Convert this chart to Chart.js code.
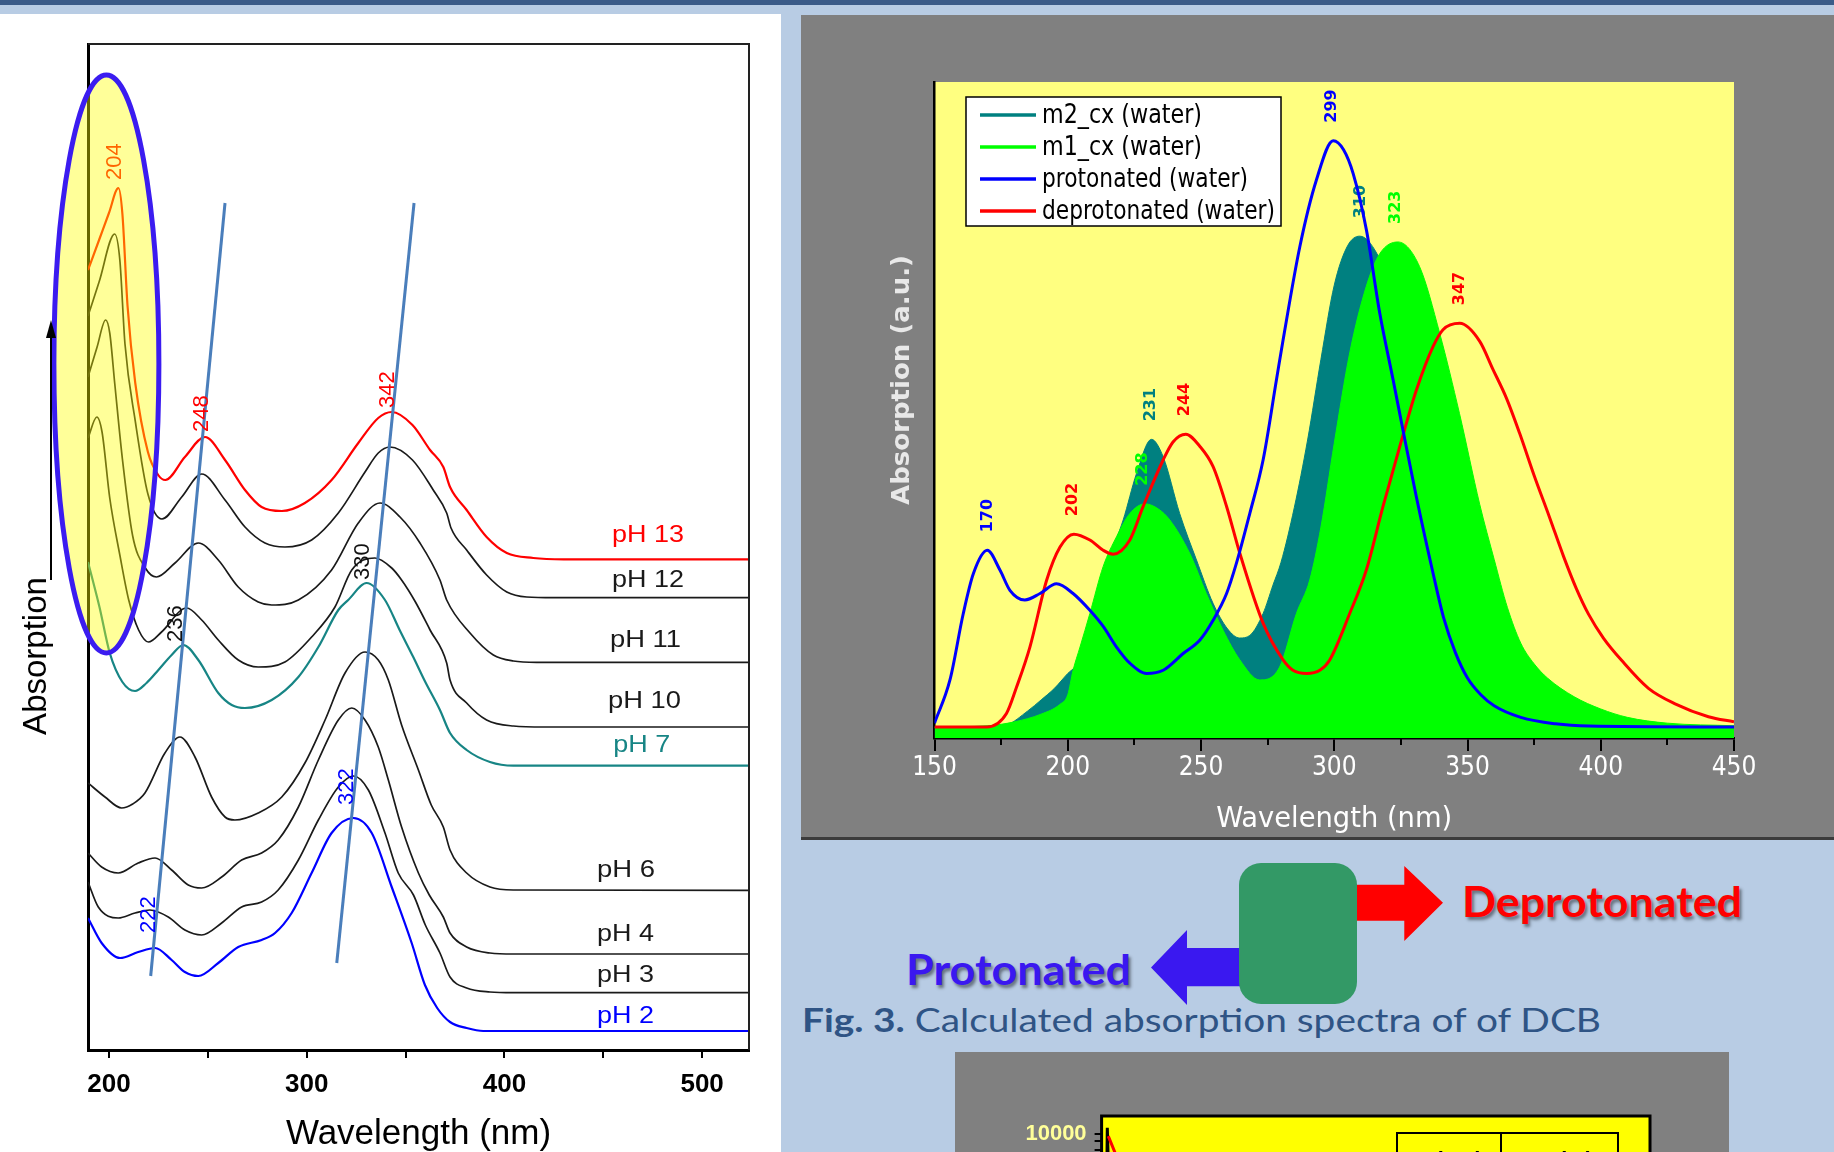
<!DOCTYPE html>
<html>
<head>
<meta charset="utf-8">
<script src="https://cdn.jsdelivr.net/npm/chart.js@4.4.1/dist/chart.umd.min.js"></script>
<style>
  body { margin:0; width:1834px; height:1152px; overflow:hidden; background:#b8cce4; position:relative; }
  .blk { position:absolute; }
  .fit { position:absolute; white-space:nowrap; line-height:1; transform-origin:0 0; font-family:Lato, "Open Sans", sans-serif; }
  canvas { display:block; }
</style>
</head>
<body>
<div class="blk" style="left:0;top:0;width:1834px;height:5px;background:#3b5b88"></div>
<div class="blk" style="left:0;top:14px;width:781px;height:1138px;background:#fff">
  <canvas id="phChart" width="781" height="1138"></canvas>
</div>
<div class="blk" style="left:801px;top:15px;width:1033px;height:822px;background:#808080;border-bottom:3px solid #3c3c3c">
  <canvas id="calcChart" width="1033" height="822"></canvas>
</div>
<div class="blk" style="left:955px;top:1052px;width:774px;height:100px;background:#808080;overflow:hidden">
  <canvas id="fitChart" width="774" height="460"></canvas>
</div>

<!-- scheme between the charts -->
<div class="blk" style="left:1151px;top:930px;width:90px;height:75px;background:#3a18f0;clip-path:polygon(0 50%,40% 0,40% 24%,100% 24%,100% 75%,40% 75%,40% 100%)"></div>
<div class="blk" style="left:1355px;top:866px;width:88px;height:75px;background:#ff0000;clip-path:polygon(0 25%,56% 25%,56% 0,100% 49%,56% 100%,56% 73%,0 73%)"></div>
<div class="blk" style="left:1239px;top:863px;width:118px;height:141px;background:#339966;border-radius:22px"></div>
<div class="fit" data-fit="280" style="left:1462px;top:880px;font-size:42px;font-weight:bold;color:#ff0000;text-shadow:2px 3px 3px rgba(0,0,0,0.45)">Deprotonated</div>
<div class="fit" data-fit="225" style="left:906px;top:948px;font-size:42px;font-weight:bold;color:#3a18f0;text-shadow:2px 3px 3px rgba(0,0,0,0.45)">Protonated</div>
<div class="fit" data-fit="799" style="left:802px;top:1004px;font-size:32px;color:#2f5485"><b>Fig. 3.</b> Calculated absorption spectra of of DCB</div>

<script>
// ---- measured pH series (wavelength nm, offset absorption) ----
const phLabels = ['pH 13', 'pH 12', 'pH 11', 'pH 10', 'pH 7', 'pH 6', 'pH 4', 'pH 3', 'pH 2'];
const phColors = ['#ff0000', '#1a1a1a', '#1a1a1a', '#1a1a1a', '#178585', '#1a1a1a', '#1a1a1a', '#1a1a1a', '#0000ff'];

const ph13 = [[189.4,7.80],[195,8.10],[200,8.37],[204.8,8.62],[206.8,8.36],[209.4,7.44],[213.3,6.67],[219.7,5.98],[224.9,5.75],[228.5,5.70],[238.4,5.93],[248.6,6.13],[258.7,5.90],[268.8,5.60],[277.2,5.43],[287.4,5.39],[299.1,5.47],[312.6,5.70],[326.1,6.07],[336.2,6.32],[343,6.38],[353.5,6.25],[362.4,6.00],[369.1,5.83],[372.5,5.63],[380.9,5.40],[391,5.13],[401.2,4.97],[414.6,4.92],[430,4.907],[523.7,4.907]];
const ph12 = [[189.4,7.34],[195,7.68],[202.9,8.16],[205.5,7.90],[208.1,7.06],[213.3,6.29],[219.7,5.56],[226.8,5.31],[236.8,5.53],[246.9,5.76],[258.7,5.50],[268.8,5.23],[278.9,5.07],[289,5.03],[302.5,5.10],[316,5.37],[329.5,5.78],[336.2,5.97],[342.1,6.03],[353.5,5.90],[364,5.60],[370.8,5.37],[373,5.22],[380.9,5.00],[391,4.75],[401.2,4.58],[411.3,4.53],[425,4.523],[523.7,4.523]];
const ph11 = [[189.4,6.73],[194,7.03],[198.3,7.30],[200.4,7.17],[202.9,6.67],[206.8,5.91],[212,5.14],[218.4,4.82],[224,4.73],[233.4,4.87],[245.2,5.07],[255.3,4.90],[265.4,4.63],[275.5,4.48],[282.3,4.45],[295.8,4.50],[312.6,4.80],[326.1,5.27],[337.1,5.47],[347.2,5.33],[357.3,5.07],[367.4,4.70],[370.8,4.50],[382.6,4.17],[394.4,3.95],[404.5,3.89],[416.3,3.877],[523.7,3.877]];
const ph10 = [[189.4,6.12],[193.9,6.33],[196.5,6.18],[200.4,5.52],[205.5,4.95],[210,4.50],[215,4.20],[220,4.08],[226.6,4.18],[239.3,4.42],[246.9,4.30],[255.3,4.10],[265.4,3.90],[275.5,3.83],[289,3.88],[302.5,4.13],[314.3,4.43],[322.8,4.80],[334.5,4.92],[343,4.82],[348,4.70],[355,4.48],[362.4,4.20],[370.8,3.87],[372.5,3.70],[380.9,3.47],[391,3.30],[404.5,3.24],[420,3.23],[523.7,3.23]];
const ph7 = [[189.4,4.88],[195.2,4.43],[200.4,3.97],[206.8,3.68],[213.2,3.59],[219,3.67],[225,3.80],[231.7,3.95],[237.6,4.05],[245.2,3.90],[255.3,3.57],[262.1,3.45],[268.8,3.42],[282.3,3.50],[295.8,3.73],[305.9,4.03],[316,4.40],[321,4.50],[330.3,4.67],[339.6,4.50],[347,4.20],[353.9,3.93],[360,3.68],[367.4,3.40],[372.5,3.17],[380.9,3.00],[392.7,2.88],[404.5,2.843],[523.7,2.843]];
const ph6 = [[189.4,2.67],[198,2.53],[206.4,2.42],[212,2.46],[218.2,2.57],[228.3,2.97],[235.9,3.13],[243.5,2.93],[251.9,2.53],[258.7,2.33],[263.7,2.30],[275.5,2.37],[287.4,2.53],[299.1,2.87],[309.3,3.30],[319.4,3.77],[329.5,3.98],[336.2,3.90],[341.3,3.70],[348,3.25],[356.5,2.80],[363,2.45],[369.1,2.23],[372.5,2.00],[380.9,1.77],[392.7,1.63],[404.5,1.60],[523.7,1.597]];
const ph4 = [[189.4,1.97],[196.3,1.83],[204.7,1.77],[214.8,1.87],[223.3,1.92],[231.7,1.80],[240.1,1.65],[246.9,1.62],[257,1.73],[267.1,1.90],[277.2,1.97],[285.6,2.10],[295.8,2.43],[305.9,2.90],[316,3.30],[322.8,3.42],[329.5,3.30],[336.2,3.03],[341.3,2.70],[348,2.23],[356.5,1.77],[362,1.55],[369.1,1.33],[372.5,1.17],[380.9,1.03],[392.7,0.97],[404.5,0.96],[523.7,0.96]];
const ph3 = [[189.4,1.68],[194.6,1.43],[204.7,1.32],[213.2,1.37],[220.7,1.40],[230,1.33],[238.4,1.20],[246.9,1.15],[257,1.27],[267.1,1.43],[277.2,1.48],[285.6,1.60],[295.8,1.90],[305.9,2.30],[316,2.63],[323.6,2.74],[331.2,2.60],[339.6,2.17],[346.3,1.77],[354,1.55],[360,1.25],[367.4,0.97],[372.5,0.73],[380.9,0.62],[392.7,0.58],[404.5,0.573],[523.7,0.573]];
const ph2 = [[189.4,1.32],[196.3,1.07],[205.6,0.92],[214.8,0.98],[223.3,1.02],[231.7,0.90],[238.4,0.78],[245.2,0.74],[255.3,0.87],[265.4,1.03],[277.2,1.10],[284,1.17],[292.4,1.37],[302.5,1.77],[312.6,2.17],[323.6,2.32],[332.9,2.17],[343,1.63],[353.1,1.07],[359.8,0.65],[366,0.42],[372.5,0.28],[380.9,0.22],[389.3,0.19],[523.7,0.19]];
const phSeries = [ph13, ph12, ph11, ph10, ph7, ph6, ph4, ph3, ph2];

// drift guides through the band maxima
const guideShort = [[258.7,8.47],[221.1,0.74]];
const guideLong = [[354.3,8.47],[315.2,0.87]];

// peak tags on the pH plot
const phPeakText = ['204', '248', '342', '330', '236', '322', '222'];
const phPeakColor = ['#ff0000', '#ff0000', '#ff0000', '#111', '#111', '#0000ff', '#0000ff'];

// ---- calculated spectra (wavelength nm, a.u.) ----
const calcLabels = ['m2_cx (water)', 'm1_cx (water)', 'protonated (water)', 'deprotonated (water)'];
const m2cx = [[150,0],[170,0],[177,0.3],[185,2.5],[190,4.2],[195,6],[200,8.3],[203,9.5],[206,12],[210,18],[215,25.5],[220.8,32.1],[225.8,39.3],[231.4,44.6],[235.8,41.9],[242,33.1],[248.3,25.9],[254.5,19.2],[260,15.2],[264.5,13.8],[268.3,14.2],[273.3,17.6],[277,22],[280,25.5],[285,34],[290,44.5],[295,57],[300,68.5],[305,74.6],[309.6,76.1],[316,73.4],[322,67],[330,55],[340,38],[350,22],[360,11],[370,5],[380,2],[400,0.5],[450,0]];
const m1cx = [[150,0],[170,0.2],[180,0.8],[190,2],[197,3.5],[200,5],[202,8.8],[204.6,12.4],[208.3,17.6],[213.3,24.9],[218.3,29.5],[223.3,33.1],[229,34.6],[234,33.8],[238.3,32.1],[245.8,26.9],[252,20.7],[258.3,15],[264.6,10.4],[272,7.3],[279.5,9.3],[285.8,17.6],[290.8,22.8],[295,31],[300,44],[305.8,58],[312,68.3],[317.1,73.4],[323.9,75.2],[332,71.4],[339.6,61],[347,48.6],[354.6,34.5],[360,26],[365,18.5],[370,13],[375,9.8],[380,7.6],[390,4.7],[400,2.8],[410,1.5],[425,0.6],[450,0.2]];
const protonated = [[150,0.6],[155.8,7.3],[160.8,17.6],[164.6,23.8],[169.8,27.4],[174.6,24.3],[178.3,21.2],[183.9,19.7],[189.6,20.7],[195.8,22.2],[202,20.7],[208.3,18.1],[213.3,15.6],[218.3,12.4],[223.3,9.9],[229.6,8.3],[235.8,8.8],[243.3,11.4],[249.6,13.5],[254.6,16.6],[259.6,20.7],[263.3,25.4],[268.3,33.1],[273.3,41.4],[278.3,53.8],[280.8,60],[287.1,74.5],[293.3,84.8],[299.6,90.9],[303.5,89.5],[307.1,85.8],[312.1,77],[317.1,64.1],[322.1,53.8],[325.8,46],[330.8,35.7],[337.1,23.8],[341,17],[345.5,11.5],[350,7.6],[355,5],[360,3.3],[370,1.5],[383,0.5],[395.5,0.15],[450,0]];
const deprotonated = [[150,0],[169.6,0],[177,2.1],[180.8,6.2],[185.8,12.4],[192.1,22.8],[197.1,27.9],[202.3,29.9],[208.3,29.0],[213.3,27.4],[217,26.8],[223.3,29.0],[228.3,34.2],[235.8,41.4],[239.5,44.2],[244.3,45.4],[249.6,43.5],[254.5,40.4],[259.6,34.2],[264.6,26.9],[273.3,16.1],[280.8,10.4],[284.5,8.8],[289.6,8.3],[294.6,8.8],[298.3,10.4],[305.8,17.6],[312,24.3],[318.3,34.2],[324.6,43.5],[330.8,52.2],[337.1,59.0],[340.8,61.6],[347.1,62.6],[354.6,59.8],[359.5,55.5],[364.6,51],[369.6,45.5],[375,39],[380.8,32.5],[386,26.5],[390.8,21.5],[395.4,17.5],[401,13.8],[407.9,10.3],[417.9,6],[427.9,3.6],[440.4,1.6],[450,0.8]];
const calcPeakText = ['170', '202', '231', '228', '244', '299', '310', '323', '347'];
const calcPeakAbs = [27.4, 29.9, 44.6, 34.6, 45.4, 90.9, 76.1, 75.2, 62.6];
const calcPeakColor = ['#0000ff', '#ff0000', '#008080', '#00ff00', '#ff0000', '#0000ff', '#008080', '#00ff00', '#ff0000'];

// ---- cropped panel at the bottom (log scale) ----
const fitBlack = [[0.5,400],[0.85,3000],[1.04,10950],[1.2,7000],[1.4,2500],[2,900]];
const fitRed = [[1.22,9700],[2.45,7640],[4,4500],[7,2000],[12,900]];

// ---- layout of annotations (not data) ----
const phTagPlace = [[454.4,5.08,72],[454.4,4.63,72],[453.4,4.03,71],[452.4,3.42,73],[455,2.98,57],[446.8,1.73,58],[446.8,1.09,57],[446.8,0.68,57],[446.8,0.27,57]];
const phPeakPlace = [[202.9,8.70],[247.2,6.18],[340.9,6.42],[328.7,4.70],[234.1,4.08],[320.5,2.45],[220.3,1.17]];
const ellipseMark = { nm: 198.7, abs: 6.86, dnm: 26.55, dabs: 2.89 };

const SANS = '"Liberation Sans", Arial, sans-serif';
const NARROW = '"Liberation Sans Narrow", "DejaVu Sans Condensed", "Liberation Sans", sans-serif';
const toXY = pts => pts.map(p => ({ x: p[0], y: p[1] }));

// text squeezed / stretched to a given width
function fitText(ctx, text, x, y, width, center) {
  const w = ctx.measureText(text).width;
  ctx.save();
  ctx.translate(x, y);
  ctx.scale(width / w, 1);
  ctx.textAlign = 'left';
  ctx.fillText(text, center ? -w / 2 : 0, 0);
  ctx.restore();
}

const phDecor = {
  id: 'phDecor',
  afterDatasetsDraw(chart) {
    const { ctx, chartArea: a, scales: { x, y } } = chart;
    ctx.save();
    ctx.strokeStyle = '#222';
    ctx.lineWidth = 2;
    ctx.beginPath();
    ctx.moveTo(a.left, a.top);
    ctx.lineTo(a.right, a.top);
    ctx.lineTo(a.right, a.bottom);
    ctx.stroke();

    ctx.font = '22px ' + SANS;
    ctx.textBaseline = 'middle';
    ctx.textAlign = 'left';
    phPeakText.forEach((t, i) => {
      ctx.save();
      ctx.translate(x.getPixelForValue(phPeakPlace[i][0]), y.getPixelForValue(phPeakPlace[i][1]));
      ctx.rotate(-Math.PI / 2);
      ctx.fillStyle = phPeakColor[i];
      ctx.fillText(t, 0, 0);
      ctx.restore();
    });

    ctx.font = '24px ' + SANS;
    ctx.textBaseline = 'alphabetic';
    phLabels.forEach((t, i) => {
      const p = phTagPlace[i];
      ctx.fillStyle = phColors[i];
      fitText(ctx, t, x.getPixelForValue(p[0]), y.getPixelForValue(p[1]), p[2]);
    });

    const cx = x.getPixelForValue(ellipseMark.nm);
    const cy = y.getPixelForValue(ellipseMark.abs);
    const rx = x.getPixelForValue(ellipseMark.nm + ellipseMark.dnm) - cx;
    const ry = cy - y.getPixelForValue(ellipseMark.abs + ellipseMark.dabs);
    ctx.beginPath();
    ctx.ellipse(cx, cy, rx, ry, 0, 0, Math.PI * 2);
    ctx.fillStyle = 'rgba(255,255,0,0.4)';
    ctx.fill();
    ctx.lineWidth = 5;
    ctx.strokeStyle = '#3b1cf0';
    ctx.stroke();

    // y title with its arrow
    ctx.fillStyle = '#000';
    ctx.font = '33px ' + SANS;
    ctx.textAlign = 'center';
    ctx.textBaseline = 'middle';
    ctx.save();
    ctx.translate(37, 642);
    ctx.rotate(-Math.PI / 2);
    ctx.fillText('Absorption', 0, 0);
    ctx.restore();
    ctx.strokeStyle = '#000';
    ctx.lineWidth = 2;
    ctx.beginPath();
    ctx.moveTo(51, 566);
    ctx.lineTo(51, 318);
    ctx.stroke();
    ctx.beginPath();
    ctx.moveTo(51, 306);
    ctx.lineTo(46, 324);
    ctx.lineTo(56, 324);
    ctx.closePath();
    ctx.fill();
    ctx.restore();
  }
};

new Chart(document.getElementById('phChart'), {
  type: 'line',
  data: {
    datasets: [
      { data: toXY(guideShort), borderColor: '#4a7ebb', borderWidth: 3, order: -1 },
      { data: toXY(guideLong), borderColor: '#4a7ebb', borderWidth: 3, order: -1 }
    ].concat(phSeries.map((s, i) => ({
      label: phLabels[i],
      data: toXY(s),
      borderColor: phColors[i],
      borderWidth: (i === 0 || i === 4 || i === 8) ? 2.2 : 1.7,
      cubicInterpolationMode: 'monotone'
    })))
  },
  options: {
    responsive: false,
    animation: false,
    devicePixelRatio: 1,
    elements: { point: { radius: 0 } },
    plugins: { legend: { display: false }, tooltip: { enabled: false } },
    layout: { padding: { left: 0, top: 30, right: 32, bottom: 0 } },
    scales: {
      x: {
        type: 'linear', min: 189.4, max: 523.7,
        afterFit(s) { s.height = 102; },
        ticks: {
          stepSize: 50, includeBounds: false, autoSkip: false, maxRotation: 0, padding: 11,
          color: '#000', font: { family: SANS, size: 26, weight: 'bold' },
          callback: v => (v % 100 === 0 ? String(v) : '')
        },
        grid: { drawOnChartArea: false, tickLength: 8, color: '#000', lineWidth: 2 },
        border: { color: '#000', width: 3 },
        title: { display: true, text: 'Wavelength (nm)', color: '#000', font: { family: SANS, size: 35, lineHeight: 1 }, padding: { top: 0, bottom: 0 } }
      },
      y: {
        min: 0, max: 10.06,
        afterFit(s) { s.width = 88; },
        ticks: { display: false },
        grid: { display: false },
        border: { color: '#000', width: 3 }
      }
    }
  },
  plugins: [phDecor]
});

const calcDecor = {
  id: 'calcDecor',
  beforeDraw(chart) {
    const { ctx, chartArea: a } = chart;
    ctx.save();
    ctx.fillStyle = '#ffff80';
    ctx.fillRect(a.left, a.top, a.right - a.left, a.bottom - a.top);
    ctx.restore();
  },
  afterDatasetDraw(chart, args) {
    if (args.index !== 1) return;
    const { ctx, scales: { x, y } } = chart;
    ctx.save();
    ctx.font = 'bold 16px "DejaVu Sans", sans-serif';
    ctx.textBaseline = 'middle';
    ctx.textAlign = 'left';
    calcPeakText.forEach((t, i) => {
      ctx.save();
      ctx.translate(x.getPixelForValue(Number(t)), y.getPixelForValue(calcPeakAbs[i]) - 18);
      ctx.rotate(-Math.PI / 2);
      ctx.fillStyle = calcPeakColor[i];
      ctx.fillText(t, 0, 0);
      ctx.restore();
    });
    ctx.restore();
  },
  afterDraw(chart) {
    const { ctx, chartArea: a, scales: { x } } = chart;
    ctx.save();
    // minor ticks
    ctx.strokeStyle = '#000';
    ctx.lineWidth = 2;
    for (let v = 175; v < 450; v += 50) {
      const px = Math.round(x.getPixelForValue(v));
      ctx.beginPath();
      ctx.moveTo(px, a.bottom);
      ctx.lineTo(px, a.bottom + 7);
      ctx.stroke();
    }
    // legend
    const bx = a.left + 31.5, by = a.top + 15, bw = 315, bh = 129;
    ctx.fillStyle = '#fff';
    ctx.fillRect(bx, by, bw, bh);
    ctx.lineWidth = 1.5;
    ctx.strokeStyle = '#000';
    ctx.strokeRect(bx, by, bw, bh);
    const widths = [160, 160, 206, 233];
    ctx.font = '26px ' + NARROW;
    ctx.textBaseline = 'middle';
    chart.data.datasets.forEach((ds, i) => {
      const yy = by + 18 + i * 32;
      ctx.strokeStyle = ds.keyColor;
      ctx.lineWidth = 3.5;
      ctx.beginPath();
      ctx.moveTo(bx + 14, yy);
      ctx.lineTo(bx + 70, yy);
      ctx.stroke();
      ctx.fillStyle = '#000';
      fitText(ctx, calcLabels[i], bx + 76, yy + 1, widths[i]);
    });
    // axis titles
    ctx.fillStyle = '#fff';
    ctx.font = '28px ' + NARROW;
    fitText(ctx, 'Wavelength (nm)', (a.left + a.right) / 2, 805, 236, true);
    ctx.fillStyle = '#e8e8e8';
    ctx.font = 'bold 24px "DejaVu Sans", sans-serif';
    ctx.save();
    ctx.translate(102, 365);
    ctx.rotate(-Math.PI / 2);
    fitText(ctx, 'Absorption (a.u.)', 0, 0, 250, true);
    ctx.restore();
    ctx.restore();
  }
};

new Chart(document.getElementById('calcChart'), {
  type: 'line',
  data: {
    datasets: [
      { label: calcLabels[0], data: toXY(m2cx), keyColor: '#008080', borderColor: '#008080', backgroundColor: '#008080', borderWidth: 1, fill: 'start', order: 3, cubicInterpolationMode: 'monotone' },
      { label: calcLabels[1], data: toXY(m1cx), keyColor: '#00ff00', borderColor: '#00ff00', backgroundColor: '#00ff00', borderWidth: 1, fill: 'start', order: 2, cubicInterpolationMode: 'monotone' },
      { label: calcLabels[2], data: toXY(protonated), keyColor: '#0000ff', borderColor: '#0000ff', borderWidth: 3, order: 1, cubicInterpolationMode: 'monotone' },
      { label: calcLabels[3], data: toXY(deprotonated), keyColor: '#ff0000', borderColor: '#ff0000', borderWidth: 3, order: 1, cubicInterpolationMode: 'monotone' }
    ]
  },
  options: {
    responsive: false,
    animation: false,
    devicePixelRatio: 1,
    elements: { point: { radius: 0 } },
    plugins: { legend: { display: false }, tooltip: { enabled: false } },
    layout: { padding: { left: 0, top: 67, right: 100, bottom: 0 } },
    scales: {
      x: {
        type: 'linear', min: 150, max: 450, z: 1,
        afterFit(s) { s.height = 99; },
        ticks: { stepSize: 50, autoSkip: false, maxRotation: 0, padding: 2, color: '#fff', font: { family: NARROW, size: 26 } },
        grid: { drawOnChartArea: false, tickLength: 13, color: '#000', lineWidth: 2 },
        border: { color: '#000', width: 2.5 }
      },
      y: {
        min: -1.7, max: 100, z: 1,
        afterFit(s) { s.width = 133.5; },
        ticks: { display: false },
        grid: { display: false },
        border: { color: '#000', width: 2.5 }
      }
    }
  },
  plugins: [calcDecor]
});

const fitDecor = {
  id: 'fitDecor',
  beforeDraw(chart) {
    const { ctx, chartArea: a } = chart;
    ctx.save();
    ctx.fillStyle = '#ffff00';
    ctx.fillRect(a.left, a.top, a.right - a.left, a.bottom - a.top);
    ctx.restore();
  },
  afterDraw(chart) {
    const { ctx, chartArea: a } = chart;
    ctx.save();
    ctx.strokeStyle = '#000';
    ctx.lineWidth = 3;
    ctx.strokeRect(a.left, a.top, a.right - a.left, a.bottom - a.top);
    ctx.lineWidth = 2;
    ctx.strokeRect(442, 81, 221, 120);
    ctx.beginPath();
    ctx.moveTo(546, 81);
    ctx.lineTo(546, 201);
    ctx.stroke();
    ctx.fillStyle = '#000';
    ctx.font = 'bold 22px ' + SANS;
    ctx.textAlign = 'center';
    ctx.textBaseline = 'top';
    ctx.fillText('(nm)', 504, 98);
    ctx.fillText('\u0394 (%)', 610, 98);
    ctx.restore();
  }
};

new Chart(document.getElementById('fitChart'), {
  type: 'line',
  data: {
    datasets: [
      { data: toXY(fitRed), borderColor: '#ff0000', borderWidth: 3 },
      { data: toXY(fitBlack), borderColor: '#000', borderWidth: 3 }
    ]
  },
  options: {
    responsive: false,
    animation: false,
    devicePixelRatio: 1,
    elements: { point: { radius: 0 } },
    plugins: { legend: { display: false }, tooltip: { enabled: false } },
    layout: { padding: { left: 0, top: 64, right: 79, bottom: 58 } },
    scales: {
      x: { type: 'linear', min: 0, max: 100, display: false },
      y: {
        type: 'logarithmic', min: 100, max: 12960,
        afterFit(s) { s.width = 146.6; },
        ticks: {
          autoSkip: false, padding: 8, color: '#ffff99', font: { family: SANS, size: 22, weight: 'bold' },
          callback: v => ([100, 1000, 10000].includes(v) ? String(v) : '')
        },
        grid: { drawOnChartArea: false, tickLength: 7, lineWidth: 2, tickColor: c => (c.tick && c.tick.value > 10000 ? 'rgba(0,0,0,0)' : '#000') },
        border: { display: false }
      }
    }
  },
  plugins: [fitDecor]
});

document.querySelectorAll('.fit').forEach(el => {
  const w = el.getBoundingClientRect().width;
  el.style.transform = 'scaleX(' + (Number(el.dataset.fit) / w) + ')';
});
</script>
</body>
</html>
